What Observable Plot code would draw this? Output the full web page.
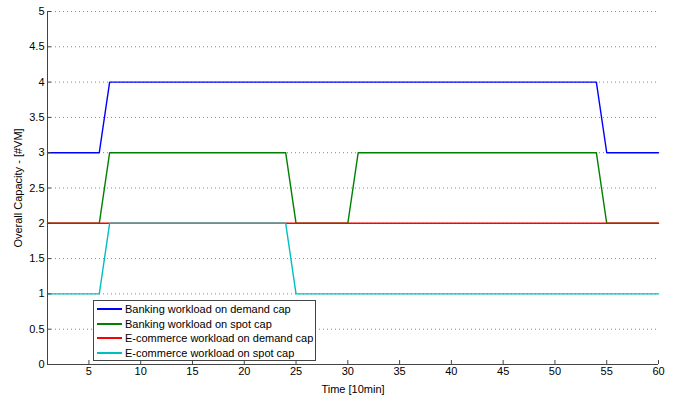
<!DOCTYPE html>
<html>
<head>
<meta charset="utf-8">
<script src="https://cdn.jsdelivr.net/npm/d3@7"></script>
<script src="https://cdn.jsdelivr.net/npm/@observablehq/plot@0.6"></script>
<style>
  html, body { margin: 0; padding: 0; background: #fff; }
  #chart { position: relative; width: 678px; height: 398px; font-family: "Liberation Sans", Arial, Helvetica, sans-serif; }
  #legend {
    position: absolute; left: 93px; top: 300px; width: 223px; height: 61px;
    background: #fff; border: 1px solid #444; box-sizing: border-box;
    font-size: 11px; color: #000; padding-top: 1px; white-space: nowrap;
  }
  .row { display: flex; align-items: center; height: 14.5px; line-height: 14.5px; }
  .swatch { display: inline-block; flex: none; width: 25px; height: 2px; margin-left: 3px; margin-right: 3px; }
</style>
</head>
<body>
<div id="chart"></div>
<script>
// Time axis (units of 10 minutes)
const xDomain = [1, 60];
const xTicks = [5, 10, 15, 20, 25, 30, 35, 40, 45, 50, 55, 60];
const yDomain = [0, 5];
const yTicks = [0, 0.5, 1, 1.5, 2, 2.5, 3, 3.5, 4, 4.5, 5];

// Capacity (#VM) at the time steps where it changes
const bankingDemandT = [1, 6, 7, 54, 55, 60];
const bankingDemandV = [3, 3, 4, 4, 3, 3];
const bankingSpotT = [1, 6, 7, 24, 25, 30, 31, 54, 55, 60];
const bankingSpotV = [2, 2, 3, 3, 2, 2, 3, 3, 2, 2];
const ecomDemandT = [1, 60];
const ecomDemandV = [2, 2];
const ecomSpotT = [1, 6, 7, 24, 25, 60];
const ecomSpotV = [1, 1, 2, 2, 1, 1];

const seriesNames = [
  "Banking workload on demand cap",
  "Banking workload on spot cap",
  "E-commerce workload on demand cap",
  "E-commerce workload on spot cap"
];
const seriesColors = ["#0000ff", "#008000", "#ff0000", "#00bfbf"];

const toRows = (t, v) => t.map((d, i) => ({t: d, v: v[i]}));
const series = [
  toRows(bankingDemandT, bankingDemandV),
  toRows(bankingSpotT, bankingSpotV),
  toRows(ecomDemandT, ecomDemandV),
  toRows(ecomSpotT, ecomSpotV)
];

const chart = Plot.plot({
  width: 678,
  height: 398,
  marginLeft: 47,
  marginRight: 20,
  marginTop: 11,
  marginBottom: 34,
  style: {fontFamily: '"Liberation Sans", Arial, Helvetica, sans-serif', fontSize: "11px", color: "#000", background: "#fff"},
  x: {domain: xDomain},
  y: {domain: yDomain},
  marks: [
    Plot.gridY(yTicks.filter(d => d > 0), {stroke: "#888", strokeOpacity: 1, strokeDasharray: "1,3"}),
    ...series.map((rows, i) => Plot.line(rows, {x: "t", y: "v", stroke: seriesColors[i], strokeWidth: 1.4})),
    Plot.ruleX([xDomain[0]], {stroke: "#444"}),
    Plot.ruleY([yDomain[0]], {stroke: "#444"}),
    Plot.axisX(xTicks, {tickSize: -4, tickPadding: 7, stroke: "#444", label: "Time [10min]", labelAnchor: "center", labelOffset: 28, labelArrow: "none"}),
    Plot.axisY(yTicks, {tickSize: -4, tickPadding: 7, stroke: "#444", tickFormat: d => String(d), label: "Overall Capacity - [#VM]", labelAnchor: "center", labelOffset: 33, labelArrow: "none"})
  ]
});

const root = document.getElementById("chart");
root.appendChild(chart);

// Legend box overlaid on the lower-left of the plot area
const legend = document.createElement("div");
legend.id = "legend";
seriesNames.forEach((name, i) => {
  const row = document.createElement("div");
  row.className = "row";
  const sw = document.createElement("span");
  sw.className = "swatch";
  sw.style.background = seriesColors[i];
  const label = document.createElement("span");
  label.textContent = name;
  row.appendChild(sw);
  row.appendChild(label);
  legend.appendChild(row);
});
root.appendChild(legend);
</script>
</body>
</html>
